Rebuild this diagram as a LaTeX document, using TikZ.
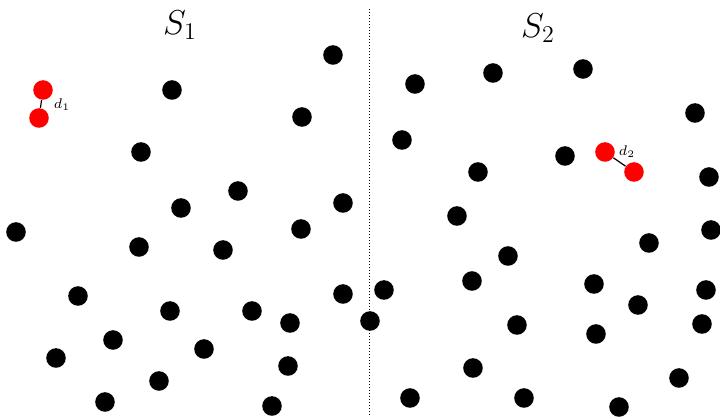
\documentclass[tikz,border=0pt]{standalone}
\usepackage{amsmath}
\usetikzlibrary{positioning}
\tikzset{
    dot/.style={
        circle,
        fill=black,
        inner sep=0pt,
        minimum size=9.8pt
    },
    reddot/.style={
        circle,
        fill=red,
        inner sep=0pt,
        minimum size=9.8pt
    },
    divider/.style={densely dotted, line width=0.5pt},
    setlabel/.style={font=\LARGE},
    distlabel/.style={font=\scriptsize, inner sep=1pt},
    gap/.style={line width=0.6pt}
}

\begin{document}
\begin{tikzpicture}[x=0.5pt, y=-0.5pt]
\useasboundingbox (0,0) rectangle (720,417);

% split between the two sets
\coordinate (top) at (370,9);
\coordinate (bot) at (370,417);
\draw[divider] (top) -- (bot);

\node[setlabel] (s1) at (180,25) {$S_1$};
\node[setlabel] (s2) at (538,28) {$S_2$};

% points of S_1
\foreach \px/\py [count=\i] in {333/55, 172/90, 302/117, 141/152, 238/191, 181/208,
    343/203, 16/232, 301/229, 139/247, 223/250, 78/296, 343/294, 170/311, 252/311,
    290/323, 113/340, 204/349, 56/358, 288/366, 159/381, 105/402, 272/406}
    \node[dot] (a\i) at (\px,\py) {};

% points of S_2
\foreach \px/\py [count=\i] in {415/84, 493/73, 583/69, 402/140, 695/113, 565/156,
    478/172, 709/177, 457/216, 649/243, 711/230, 508/256, 384/290, 472/281, 594/284,
    706/290, 638/305, 517/325, 596/334, 702/324, 473/368, 679/378, 410/398, 524/398,
    619/407, 370/321}
    \node[dot] (b\i) at (\px,\py) {};

% closest pairs
\node[reddot] (r1) at (43,90) {};
\node[reddot] (r2) at (39,118) {};
\draw[gap] (r1) -- (r2);
\node[distlabel] (d1) at (62,105) {$d_1$};

\node[reddot] (r3) at (605,152) {};
\node[reddot] (r4) at (634,172) {};
\draw[gap] (r3) -- (r4);
\node[distlabel] (d2) at (627,152) {$d_2$};
\end{tikzpicture}
\end{document}
